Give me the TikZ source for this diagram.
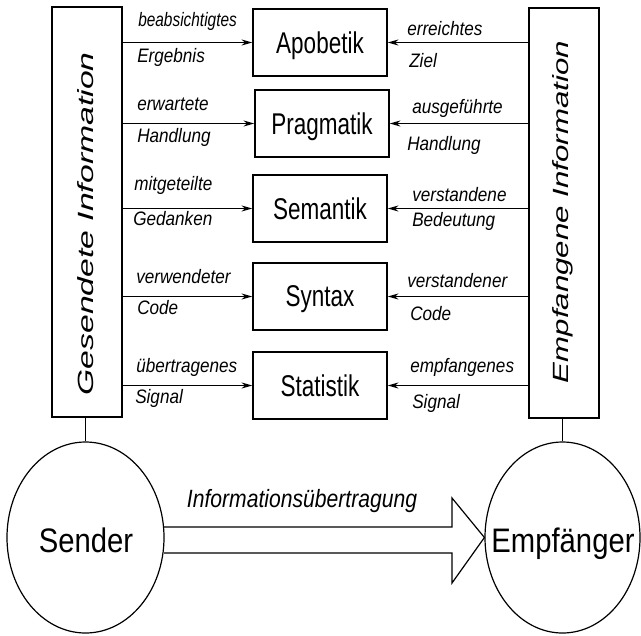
\documentclass[tikz,border=0pt]{standalone}
\usepackage{fontspec}
\setmainfont{Liberation Sans}
\newfontfamily\boxfnt[FakeStretch=0.75]{Liberation Sans}
\newfontfamily\labfnt[FakeStretch=0.88]{Liberation Sans}
\newfontfamily\ellfnt[FakeStretch=0.86]{Liberation Sans}
\newfontfamily\infofnt[FakeStretch=0.845]{Liberation Sans}
\newfontfamily\vertfnt[FakeStretch=1.42]{Liberation Sans}
\usetikzlibrary{arrows.meta, shapes.geometric}
\begin{document}
\begin{tikzpicture}[x=0.75pt,y=-0.75pt,
  layer/.style={draw, line width=1.1pt, minimum width=100.5pt, minimum height=50.25pt, inner sep=0pt, text depth=0pt, font=\boxfnt\fontsize{22.5}{24}\selectfont},
  side/.style={draw, line width=1.1pt, minimum width=52.5pt, minimum height=307.5pt, inner sep=0pt},
  vtext/.style={rotate=90, inner sep=0pt, font=\vertfnt\itshape\fontsize{16.5}{18}\selectfont},
  lab/.style={anchor=base west, inner sep=0pt, font=\labfnt\itshape\fontsize{14.6}{16}\selectfont},
  party/.style={draw, ellipse, line width=0.9pt, inner sep=0pt},
  partytext/.style={anchor=base, inner sep=0pt, font=\ellfnt\fontsize{25.5}{27}\selectfont},
  arr/.style={line width=1.1pt, -{Stealth[length=8pt,width=4.5pt,inset=2.5pt]}},
  conn/.style={line width=0.9pt},
  bigarrow/.style={line width=0.9pt, line join=miter},
  infolab/.style={anchor=base, inner sep=0pt, font=\infofnt\itshape\fontsize{18.75}{20}\selectfont}
]
\useasboundingbox (0,0) rectangle (641,635);
\fill[white] (0,0) rectangle (641,635);

% side boxes
\node[side] (L) at (87,212) {};
\node[side] (R) at (564,213) {};
\node[vtext] (Lt) at (86,224) {\scalebox{1.08}[1]{Gesendete Information}};
\node[vtext] (Rt) at (563,212) {Empfangene Information};

% layer boxes
\node[layer] (A)  at (320,42.5)  {Apobetik};
\node[layer] (P)  at (322,123.5) {Pragmatik};
\node[layer] (Se) at (320,208.5) {Semantik};
\node[layer] (Sy) at (320,296.5) {Syntax};
\node[layer] (St) at (320,385.5) {Statistik};

% arrows
\foreach \b in {A,P,Se,Sy,St}{
  \draw[arr] (L.east |- \b.west) -- (\b.west);
  \draw[arr] (R.west |- \b.east) -- (\b.east);
}

% left labels
\node[lab] (l1a) at (138,27)  {\scalebox{0.9}[1]{beabsichtigtes}};
\node[lab] (l1b) at (137,63)  {Ergebnis};
\node[lab] (l2a) at (137,110) {erwartete};
\node[lab] (l2b) at (137,142) {Handlung};
\node[lab] (l3a) at (134,190) {mitgeteilte};
\node[lab] (l3b) at (133,225) {Gedanken};
\node[lab] (l4a) at (136,283) {verwendeter};
\node[lab] (l4b) at (137,314) {Code};
\node[lab] (l5a) at (136,372) {übertragenes};
\node[lab] (l5b) at (135,403) {Signal};

% right labels
\node[lab] (r1a) at (407,36)  {erreichtes};
\node[lab] (r1b) at (409,68)  {Ziel};
\node[lab] (r2a) at (412,113) {ausgeführte};
\node[lab] (r2b) at (407,150) {Handlung};
\node[lab] (r3a) at (412,201) {verstandene};
\node[lab] (r3b) at (412,226) {Bedeutung};
\node[lab] (r4a) at (407,287) {verstandener};
\node[lab] (r4b) at (410,320) {Code};
\node[lab] (r5a) at (410,372) {empfangenes};
\node[lab] (r5b) at (412,408) {Signal};

% sender / receiver
\node[party, minimum width=117.75pt, minimum height=143.25pt] (S) at (85.5,537.5) {};
\node[party, minimum width=116.25pt, minimum height=143.25pt] (E) at (562.5,537.5) {};
\node[partytext] (Stx) at (86,552) {Sender};
\node[partytext] (Etx) at (563,552) {Empfänger};

\draw[conn] (S.north) -- (S.north |- L.south);
\draw[conn] (E.north) -- (E.north |- R.south);

% big hollow arrow
\coordinate (tip) at (E.west);
\draw[bigarrow] (164,527) -- (452,527) -- (452,498) -- (tip) -- (452,583) -- (452,553) -- (164,553);
\node[infolab] (info) at (302,507) {Informationsübertragung};
\end{tikzpicture}
\end{document}
